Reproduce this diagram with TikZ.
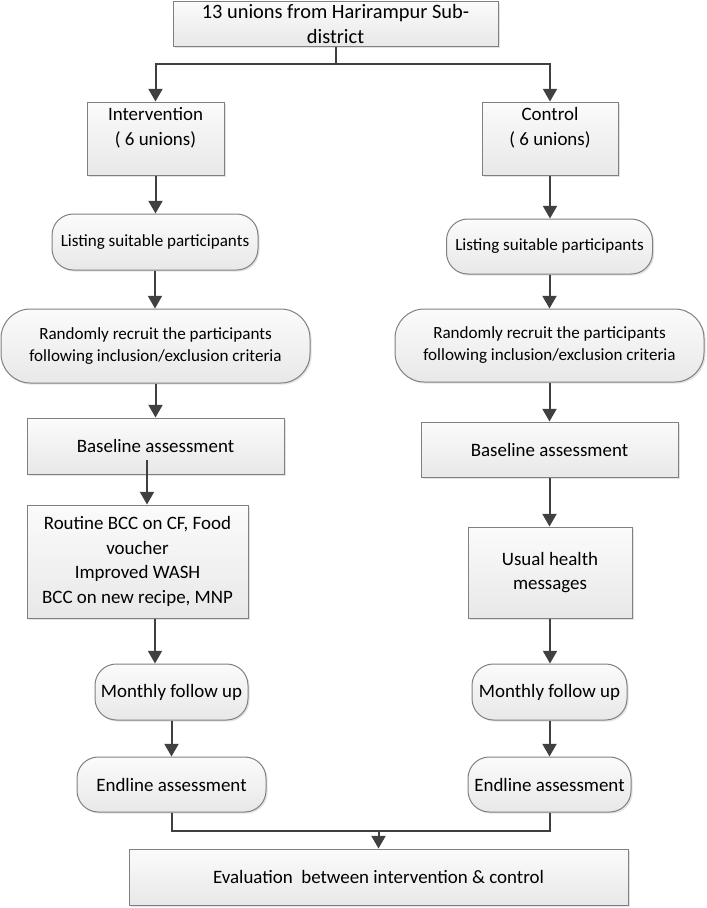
\documentclass[tikz,border=0pt]{standalone}
\usepackage{fontspec}
\setmainfont{Carlito}
\usetikzlibrary{arrows.meta,shadows}
\definecolor{conncol}{RGB}{64,64,64}
\definecolor{edgecol}{RGB}{128,128,128}
\definecolor{filltop}{RGB}{251,251,251}
\definecolor{fillbot}{RGB}{232,232,232}
\tikzset{
  boxbase/.style={draw=edgecol, line width=0.75pt, top color=filltop, bottom color=fillbot,
    drop shadow={shadow xshift=1.2pt, shadow yshift=-1.2pt, fill=black!18, opacity=0.6},
    align=center, inner sep=0pt, font=\fontsize{14.2}{18.4}\selectfont},
  smalltext/.style={font=\fontsize{12.8}{16.5}\selectfont},
  bigtext/.style={font=\fontsize{15.3}{18.75}\selectfont},
  sqbox/.style={boxbase, rectangle},
  rbox/.style={boxbase, rounded corners=16pt},
  rbigbox/.style={boxbase, rounded corners=22pt},
  line/.style={draw=conncol, line width=1.5pt},
  arrowline/.style={line, -{Triangle[length=9.5pt,width=10.5pt]}},
}
\begin{document}
\begin{tikzpicture}[x=0.75pt,y=-0.75pt]
\useasboundingbox (0,0) rectangle (707,908);
% top
\node[sqbox, bigtext, minimum width=325*0.75pt, minimum height=45*0.75pt] (top) at (335.5,23.5)
  {13 unions from Harirampur Sub-\\district};
% branches
\node[sqbox, minimum width=137*0.75pt, minimum height=73*0.75pt] (intv) at (155.5,138.5)
  {Intervention\\( 6 unions)\\\mbox{}};
\node[sqbox, minimum width=136*0.75pt, minimum height=73*0.75pt] (ctrl) at (550,138.5)
  {Control\\( 6 unions)\\\mbox{}};
% listing
\node[rbox, smalltext, minimum width=206*0.75pt, minimum height=56*0.75pt] (list1) at (155,242)
  {Listing suitable participants};
\node[rbox, smalltext, minimum width=206*0.75pt, minimum height=55*0.75pt] (list2) at (549.5,246.5)
  {Listing suitable participants};
% random
\node[rbigbox, smalltext, minimum width=309*0.75pt, minimum height=74*0.75pt] (rand1) at (155.5,346)
  {Randomly recruit the participants\\following inclusion/exclusion criteria};
\node[rbigbox, smalltext, minimum width=309*0.75pt, minimum height=73*0.75pt] (rand2) at (549.5,345.5)
  {Randomly recruit the participants\\following inclusion/exclusion criteria};
% baseline
\node[sqbox, minimum width=257*0.75pt, minimum height=56*0.75pt] (base1) at (155.5,446)
  {Baseline assessment};
\node[sqbox, minimum width=257*0.75pt, minimum height=55*0.75pt] (base2) at (549.5,449.5)
  {Baseline assessment};
% interventions
\node[sqbox, minimum width=221*0.75pt, minimum height=113*0.75pt] (rout) at (137.5,561.5)
  {Routine BCC on CF, Food\\voucher\\Improved WASH\\BCC on new recipe, MNP};
\node[sqbox, minimum width=164*0.75pt, minimum height=91*0.75pt] (usual) at (550,572.5)
  {Usual health\\messages};
% monthly
\node[rbox, minimum width=153*0.75pt, minimum height=56*0.75pt] (mon1) at (171.5,692)
  {Monthly follow up};
\node[rbox, minimum width=155*0.75pt, minimum height=56*0.75pt] (mon2) at (549.5,692)
  {Monthly follow up};
% endline
\node[rbox, minimum width=189*0.75pt, minimum height=55*0.75pt] (end1) at (171.5,784.5)
  {Endline assessment};
\node[rbox, minimum width=163*0.75pt, minimum height=55*0.75pt] (end2) at (549.5,784.5)
  {Endline assessment};
% evaluation
\node[sqbox, minimum width=499*0.75pt, minimum height=56*0.75pt] (eval) at (378.5,877)
  {Evaluation\ \ between intervention \& control};

% connectors
\coordinate (split) at (335.5,64);
\draw[line] (top.south) -- (split);
\draw[arrowline] (split) -| (intv.north);
\draw[arrowline] (split) -| (ctrl.north);
\draw[arrowline] (intv.south) -- (list1.north -| intv.south);
\draw[arrowline] (ctrl.south) -- (list2.north -| ctrl.south);
\draw[arrowline] (list1.south) -- (rand1.north -| list1.south);
\draw[arrowline] (list2.south) -- (rand2.north -| list2.south);
\draw[arrowline] (rand1.south) -- (base1.north -| rand1.south);
\draw[arrowline] (rand2.south) -- (base2.north -| rand2.south);
\coordinate (b1out) at (147,460);
\draw[arrowline] (b1out) -- (b1out |- rout.north);
\draw[arrowline] (base2.south) -- (usual.north -| base2.south);
\draw[arrowline] (rout.south -| list1.south) -- (mon1.north -| list1.south);
\draw[arrowline] (usual.south) -- (mon2.north -| usual.south);
\draw[arrowline] (mon1.south) -- (end1.north -| mon1.south);
\draw[arrowline] (mon2.south) -- (end2.north -| mon2.south);
\coordinate (join) at (378.5,831);
\draw[line] (end1.south) |- (end2.south |- join) -- (end2.south);
\draw[arrowline] (join) -- (eval.north -| join);
\end{tikzpicture}
\end{document}
